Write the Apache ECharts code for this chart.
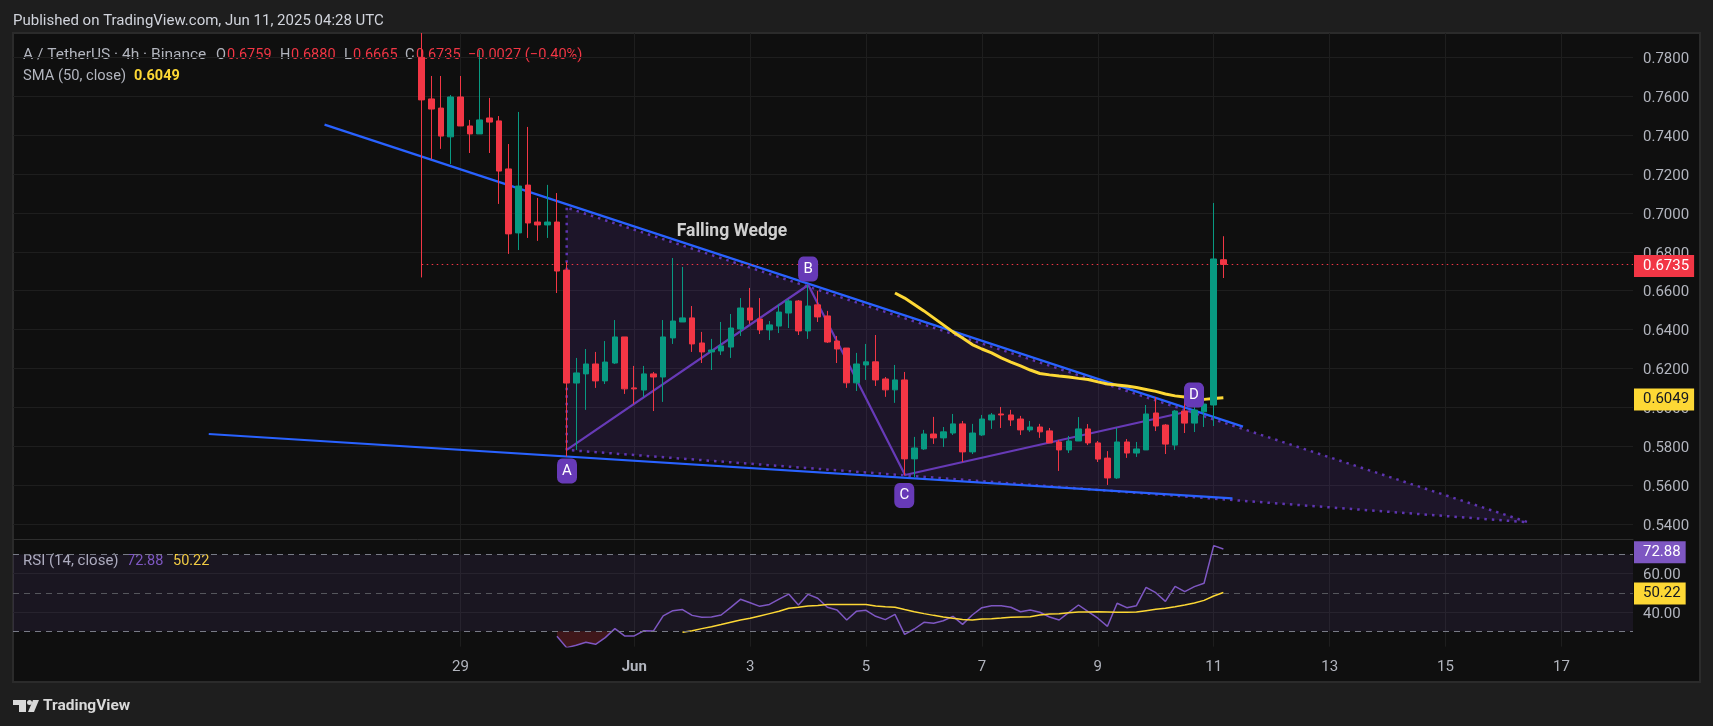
<!DOCTYPE html>
<html>
<head>
<meta charset="utf-8">
<title>A / TetherUS</title>
<style>
    html, body { margin: 0; padding: 0; background: #1e1e1e; }
    #chart { width: 1713px; height: 726px; }
</style>
<script src="https://cdn.jsdelivr.net/npm/echarts@6/dist/echarts.min.js"></script>
</head>
<body>
<div id="chart"></div>
<script>
// 4h bars
let opens = [.7800,.7586,.7539,.7391,.7596,.7447,.7406,.7488,.7473,.7226,.6897,.7143,.6953,.6938,.6953,.6706,.6125,.6172,.6223,.6136,
    .6228,.6362,.6100,.6089,.6172,.6156,.6357,.6439,.6460,.6331,.6285,.6290,.6310,.6403,.6511,.6454,.6398,.6418,.6485,.6547,
    .6393,.6527,.6470,.6341,.6305,.6126,.6218,.6234,.6146,.6090,.6141,.5735,.5786,.5863,.5843,.5868,.5915,.5771,.5858,.5935,
    .5966,.5961,.5940,.5884,.5899,.5879,.5822,.5781,.5827,.5889,.5817,.5739,.5637,.5822,.5765,.5781,.5971,.5909,.5806,.5981,
    .5919,.5977,.6012,.6759];
let highs = [.7925,.7704,.7704,.7606,.7704,.7478,.7838,.7591,.7498,.7354,.7519,.7442,.7077,.7144,.7102,.6748,.6254,.6300,.6285,.6341,
    .6449,.6362,.6213,.6213,.6182,.6449,.6768,.6722,.6521,.6388,.6352,.6439,.6480,.6562,.6614,.6562,.6444,.6532,.6557,.6552,
    .6629,.6599,.6496,.6367,.6305,.6280,.6326,.6372,.6156,.6218,.6182,.5848,.5884,.5951,.5899,.5966,.5930,.5915,.5961,.5971,
    .6002,.5987,.5956,.5930,.5915,.5894,.5832,.5853,.5950,.5914,.5827,.5775,.5894,.5837,.5822,.6012,.6053,.5914,.5986,.6038,
    .6043,.6038,.7051,.6880];
let lows = [.6668,.7275,.7329,.7251,.7447,.7308,.7406,.7308,.7046,.6789,.6809,.6871,.6856,.6871,.6588,.5747,.5781,.5987,.6100,.6120,
    .6223,.6069,.6017,.6053,.5981,.6028,.6326,.6439,.6285,.6228,.6192,.6269,.6254,.6367,.6429,.6377,.6346,.6382,.6408,.6372,
    .6352,.6439,.6331,.6228,.6100,.6084,.6141,.6110,.6054,.6023,.5650,.5640,.5781,.5812,.5796,.5858,.5719,.5760,.5853,.5889,
    .5894,.5904,.5858,.5874,.5843,.5817,.5673,.5765,.5827,.5806,.5719,.5601,.5632,.5740,.5745,.5781,.5878,.5760,.5781,.5868,
    .5873,.5899,.5904,.6665];
let closes = [.7581,.7534,.7395,.7596,.7447,.7406,.7478,.7467,.7215,.6892,.7138,.6948,.6938,.6953,.6701,.6125,.6177,.6223,.6136,.6233,
    .6362,.6095,.6095,.6172,.6156,.6362,.6444,.6460,.6326,.6285,.6295,.6316,.6408,.6511,.6449,.6398,.6424,.6490,.6547,.6393,
    .6521,.6465,.6336,.6300,.6126,.6223,.6234,.6141,.6090,.6141,.5735,.5791,.5863,.5843,.5874,.5915,.5771,.5868,.5940,.5961,
    .5961,.5935,.5884,.5899,.5874,.5817,.5781,.5827,.5889,.5817,.5734,.5637,.5822,.5765,.5786,.5966,.5904,.5811,.5981,.5919,
    .5986,.6017,.6763,.6735];
// SMA 50 starts at bar 49
let smaValues = [.6588,.6562,.6529,.6496,.6460,.6424,.6388,.6357,.6323,.6300,.6280,.6254,.6233,.6213,.6192,.6174,.6167,.6161,.6156,.6149,
    .6143,.6131,.6120,.6115,.6110,.6102,.6092,.6082,.6069,.6059,.6053,.6046,.6041,.6045,.6049];
// RSI starts at bar 14
let rsiValues = [27.4,21.5,22.7,24.25,23.2,26.7,31.4,27.6,27.6,30.3,30.2,38,40.75,41.3,38.3,37.3,37.45,38.5,42.5,46.65,
    44.9,43,44,46.8,49.4,43.7,49.25,47.2,42.5,41.1,35.9,40.4,40.9,37.8,36.1,38.8,28.4,31.2,34.7,34.15,
    35.5,37.8,33.6,38.5,42.3,43.35,43.35,42.5,40.2,41.1,39.9,37.45,35.9,39.9,43.7,40.2,36.8,32.6,44.6,42.3,
    43.35,52.9,50.1,45.6,53.4,50.65,53.25,55,74.6,72.88];
// RSI moving average starts at bar 27
let rsiMaValues = [29.5,30.3,31.4,32.4,33.5,34.7,35.9,36.75,38,39.2,40.4,42,42.5,43.2,43.5,43.9,44,44,44,43.9,
    43.2,42.8,42.5,41.3,40.2,39.2,38.3,37.45,36.75,36.1,35.9,36.4,36.6,36.9,37.3,37.45,37.6,38.5,39,39.2,
    39.7,40.05,40.05,40.2,40.05,39.9,39.9,40.05,40.75,41.45,41.95,42.8,43.7,44.75,46.1,48.4,50.22];

// x axis is in days, June 1st = 1, May 29 = -2
let firstBarDay = -2.667;
let tickDays = [-2, 1, 3, 5, 7, 9, 11, 13, 15, 17];
let tickLabels = ['29', 'Jun', '3', '5', '7', '9', '11', '13', '15', '17'];
let priceTicks = [.54, .56, .58, .60, .62, .64, .66, .68, .70, .72, .74, .76, .78];
let rsiTicks = [40, 60];

// drawings, [day, price]
let upperTrend = [[-4.344, .7454], [11.505, .5901]];
let lowerTrend = [[-6.342, .5863], [11.323, .5532]];
let wedgeOutline = [[-.165, .7027], [-.165, .5781], [16.424, .5409], [-.165, .7027]];
let abcdPath = [[-.165, .5781], [4.004, .6629], [5.673, .5652], [10.591, .5981]];
let abcdBadges = [[-.16, .5673, 'A'], [4.0, .6711, 'B'], [5.66, .5547, 'C'], [10.66, .6063, 'D']];
let wedgeTitle = [[2.688, .6903, 'Falling Wedge']];

let lastClose = 0.6735;
let lastSma = 0.6049;
let lastRsi = 72.88;
let lastRsiMa = 50.22;
// the tags sit slightly below their values
let closeTagAt = 0.6727;
let smaTagAt = 0.6040;
let rsiTagAt = 71.2;
let rsiMaTagAt = 49.7;

let xMin = -9.72, xMax = 18.235;
let gray = '#b2b5be';
let red = '#f23645';
let green = '#089981';
let yellow = '#fdd835';
let purple = '#7e57c2';
let gridColor = '#1e1e1e';
let fontName = 'Roboto';

function barDay(i) {
    return firstBarDay + i / 6;
}

let candleRows = opens.map((o, i) => [barDay(i), o, closes[i], lows[i], highs[i]]);
let smaRows = smaValues.map((v, i) => [barDay(i + 49), v]);
let rsiRows = rsiValues.map((v, i) => [barDay(i + 14), v]);
let rsiMaRows = rsiMaValues.map((v, i) => [barDay(i + 27), v]);
// part of the RSI below 30, bars 14 to 20
let oversold = rsiRows.slice(0, 6).concat([[barDay(19.7), 30], [barDay(14), 30]]);

function polygonSeries(points, fill, xIndex, yIndex) {
    return {
        type: 'custom',
        xAxisIndex: xIndex,
        yAxisIndex: yIndex,
        silent: true,
        data: [points[0]],
        renderItem: (params, api) => ({
            type: 'polygon',
            shape: { points: points.map(p => api.coord(p)) },
            style: { fill: fill }
        })
    };
}

function lineSeries(rows, color, width, type, xIndex, yIndex) {
    return {
        type: 'line',
        xAxisIndex: xIndex || 0,
        yAxisIndex: yIndex || 0,
        data: rows,
        showSymbol: false,
        silent: true,
        lineStyle: { color: color, width: width, type: type || 'solid' }
    };
}

function tagLine(value, text, bg, color) {
    return {
        yAxis: value,
        lineStyle: { color: 'transparent' },
        label: {
            show: true,
            position: 'end',
            distance: 1,
            formatter: text,
            backgroundColor: bg,
            color: color,
            fontFamily: fontName,
            fontSize: 15,
            padding: [4, 5, 3, 9]
        }
    };
}

function dashLine(value, color) {
    return { yAxis: value, lineStyle: { color: color, type: [6, 5], width: 1 }, label: { show: false } };
}

let option = {
    animation: false,
    backgroundColor: '#1e1e1e',
    graphic: [
        // frame of the chart
        { type: 'rect', z: -10, silent: true, shape: { x: 13, y: 33, width: 1687, height: 649 },
            style: { fill: '#0f0f0f', stroke: '#2b2b2b', lineWidth: 2 } },
        // logo
        { type: 'rect', silent: true, shape: { x: 13, y: 700, width: 13, height: 5 }, style: { fill: '#d9d9d9' } },
        { type: 'rect', silent: true, shape: { x: 19, y: 700, width: 7, height: 12 }, style: { fill: '#d9d9d9' } },
        { type: 'circle', silent: true, shape: { cx: 29.5, cy: 702.5, r: 2.5 }, style: { fill: '#d9d9d9' } },
        { type: 'polygon', silent: true, shape: { points: [[33, 700], [39, 700], [34, 712], [28, 712]] }, style: { fill: '#d9d9d9' } }
    ].concat([
        ['Published on TradingView.com, Jun 11, 2025 04:28 UTC', 13, 21, '#d1d4dc', 'normal', 15],
        ['A / TetherUS · 4h · Binance', 23, 55, gray, 'normal', 15.5],
        ['O', 216, 55, gray, 'normal', 14.5], ['0.6759', 227, 55, red, 'normal', 14.5],
        ['H', 280, 55, gray, 'normal', 14.5], ['0.6880', 291, 55, red, 'normal', 14.5],
        ['L', 344, 55, gray, 'normal', 14.5], ['0.6665', 353, 55, red, 'normal', 14.5],
        ['C', 405, 55, gray, 'normal', 14.5], ['0.6735', 416, 55, red, 'normal', 14.5],
        ['−0.0027 (−0.40%)', 468, 55, red, 'normal', 14.6],
        ['SMA (50, close)', 23, 76, gray, 'normal', 14.7], ['0.6049', 134, 76, yellow, 'bold', 14.5],
        ['RSI (14, close)', 23, 561, gray, 'normal', 15], ['72.88', 127, 561, purple, 'normal', 14.5],
        ['50.22', 173, 561, yellow, 'normal', 14.5],
        ['TradingView', 43, 706, '#d9d9d9', 'bold', 15.5]
    ].map(t => ({
        type: 'text',
        silent: true,
        x: t[1],
        y: t[2],
        style: { text: t[0], fill: t[3], fontWeight: t[4], fontSize: t[5], fontFamily: fontName, verticalAlign: 'middle' }
    }))),
    grid: [
        { left: 13, top: 33, width: 1620, height: 506 },
        { left: 13, top: 539, width: 1620, height: 107.7 }
    ],
    xAxis: [{
        type: 'value', gridIndex: 0, min: xMin, max: xMax,
        axisLine: { show: true, onZero: false, lineStyle: { color: '#2e2e2e', width: 1 } },
        axisTick: { show: false, customValues: tickDays },
        axisLabel: { show: false, customValues: tickDays },
        splitLine: { show: true, lineStyle: { color: gridColor } }
    }, {
        type: 'value', gridIndex: 1, min: xMin, max: xMax,
        axisLine: { show: false },
        axisTick: { show: false, customValues: tickDays },
        axisLabel: {
            customValues: tickDays,
            color: gray,
            fontFamily: fontName,
            fontSize: 15,
            margin: 13,
            formatter: v => {
                let label = tickLabels[tickDays.indexOf(v)];
                return label === 'Jun' ? '{b|Jun}' : label;
            },
            rich: { b: { fontWeight: 'bold', color: gray, fontFamily: fontName, fontSize: 15 } }
        },
        splitLine: { show: true, lineStyle: { color: gridColor } }
    }],
    yAxis: [{
        type: 'value', gridIndex: 0, position: 'right', min: 0.5323, max: 0.7925,
        axisLine: { show: false },
        axisTick: { show: false, customValues: priceTicks },
        // top aligned with a small line height puts the digits 2px below the grid line
        axisLabel: { customValues: priceTicks, color: gray, fontFamily: fontName, fontSize: 15, margin: 10, verticalAlign: 'top', lineHeight: 4, formatter: v => v.toFixed(4) },
        splitLine: { show: true, lineStyle: { color: gridColor } }
    }, {
        type: 'value', gridIndex: 1, position: 'right', min: 21.98, max: 78.07,
        axisLine: { show: false },
        axisTick: { show: false, customValues: rsiTicks },
        axisLabel: { customValues: rsiTicks, color: gray, fontFamily: fontName, fontSize: 15, margin: 10, verticalAlign: 'top', lineHeight: 4, formatter: v => v.toFixed(2) },
        splitLine: { show: true, lineStyle: { color: gridColor } }
    }],
    series: [
        polygonSeries(wedgeOutline.slice(0, 3), 'rgba(103,58,183,0.16)', 0, 0),
        lineSeries(wedgeOutline, '#5e35b1', 2.5, [2.5, 5]),
        lineSeries(upperTrend, '#2962ff', 2.2),
        lineSeries(lowerTrend, '#2962ff', 2.2),
        lineSeries(abcdPath, '#673ab7', 2.2),
        lineSeries(smaRows, yellow, 3),
        {
            type: 'candlestick',
            z: 5,
            data: candleRows,
            encode: { x: 0, y: [1, 2, 3, 4] },
            barWidth: 6,
            silent: true,
            clip: true,
            itemStyle: { color: green, color0: red, borderColor: green, borderColor0: red, borderWidth: 1 },
            markLine: {
                silent: true,
                symbol: ['none', 'none'],
                animation: false,
                precision: 4,
                data: [
                    [
                        { coord: [barDay(0), lastClose], lineStyle: { color: red, type: [1.5, 3.5], width: 1.2 } },
                        { coord: [xMax, lastClose], label: { show: false } }
                    ],
                    tagLine(closeTagAt, lastClose.toFixed(4), red, '#fff'),
                    tagLine(smaTagAt, lastSma.toFixed(4), yellow, '#131722')
                ]
            }
        },
        {
            type: 'scatter',
            z: 6,
            data: abcdBadges,
            silent: true,
            symbol: 'roundRect',
            symbolSize: [20, 25],
            itemStyle: { color: '#673ab7', opacity: 1 },
            label: { show: true, position: 'inside', color: '#fff', fontFamily: fontName, fontSize: 15, formatter: p => p.data[2] }
        },
        {
            type: 'scatter',
            z: 6,
            data: wedgeTitle,
            silent: true,
            symbolSize: 1,
            itemStyle: { color: 'transparent' },
            label: { show: true, position: 'inside', color: '#fff', fontFamily: fontName, fontSize: 17.5, fontWeight: 'bold', formatter: p => p.data[2] }
        },
        polygonSeries(oversold, 'rgba(242,54,69,0.22)', 1, 1),
        Object.assign(lineSeries(rsiRows, purple, 1.5, 'solid', 1, 1), {
            markArea: {
                silent: true,
                itemStyle: { color: 'rgba(126,87,194,0.1)' },
                data: [[{ yAxis: 70 }, { yAxis: 30 }]]
            },
            markLine: {
                silent: true,
                symbol: ['none', 'none'],
                animation: false,
                precision: 4,
                data: [
                    dashLine(70, '#787b86'),
                    dashLine(50, '#55565c'),
                    dashLine(30, '#787b86'),
                    tagLine(rsiTagAt, lastRsi.toFixed(2), purple, '#fff'),
                    tagLine(rsiMaTagAt, lastRsiMa.toFixed(2), yellow, '#131722')
                ]
            }
        }),
        lineSeries(rsiMaRows, yellow, 1.5, 'solid', 1, 1)
    ]
};

let chart = echarts.init(document.getElementById('chart'));
chart.setOption(option, true);
</script>
</body>
</html>
